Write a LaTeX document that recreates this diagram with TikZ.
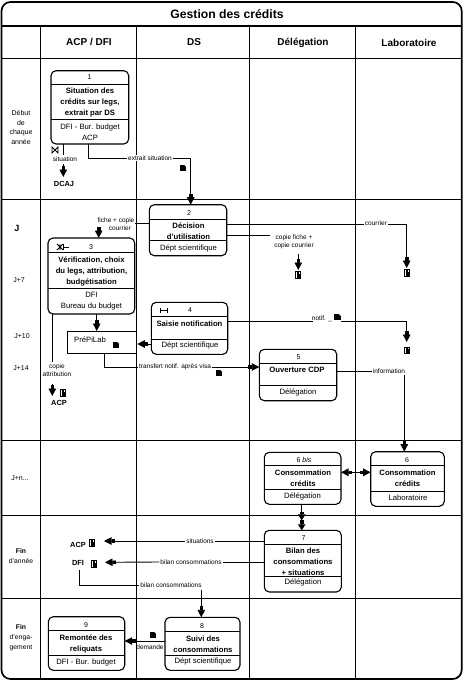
\documentclass[tikz,border=0pt]{standalone}
\usepackage{fontspec}
\setmainfont{Liberation Sans}
\usetikzlibrary{arrows.meta,calc}
\definecolor{ink}{gray}{0}
\tikzset{
  frame/.style={line width=1.7pt,draw=ink},
  grid/.style={line width=0.9pt,draw=ink},
  boxline/.style={line width=0.9pt,draw=ink},
  proc/.style={draw=ink,line width=1.1pt,rounded corners=5pt,fill=white,inner sep=0pt,outer sep=0pt},
  conn/.style={line width=0.9pt,draw=ink},
  arr/.style={conn,-{Rectangle[length=3.5pt,width=3.5pt]Triangle[width=7.5pt,length=7.5pt]}},
  arrb/.style={conn,{Triangle[width=7.5pt,length=7.5pt]Rectangle[length=3pt,width=3.5pt]}-{Rectangle[length=3pt,width=3.5pt]Triangle[width=7.5pt,length=7.5pt]}},
  title/.style={font=\bfseries\fontsize{12.2}{14}\selectfont,inner sep=0pt},
  head/.style={font=\bfseries\fontsize{10}{12}\selectfont,inner sep=0pt},
  num/.style={font=\fontsize{7}{8}\selectfont,inner sep=0pt},
  btext/.style={font=\bfseries\fontsize{7.7}{11}\selectfont,align=center,inner sep=0pt,yshift=-1.2pt},
  who/.style={font=\fontsize{7.7}{11}\selectfont,align=center,inner sep=0pt,yshift=-0.8pt},
  lbl/.style={font=\fontsize{6.5}{8}\selectfont,align=center,inner sep=0pt},
  lblw/.style={lbl,fill=white,inner sep=1pt},
  side/.style={font=\fontsize{7}{9.6}\selectfont,align=center,inner sep=0pt},
  ext/.style={font=\bfseries\fontsize{7.4}{8}\selectfont,inner sep=0pt},
}
% \procbox{name}{x1}{y1}{x2}{y2}{d1}{d2}
\newcommand{\procbox}[7]{%
  \node[proc,minimum width={#4pt-#2pt},minimum height={#5pt-#3pt},anchor=north west] (#1) at (#2,#3) {};
  \draw[boxline] (#2,#6) -- (#4,#6);
  \draw[boxline] (#2,#7) -- (#4,#7);
}
% document icon
\newcommand{\docicon}[1]{%
  \fill[ink] ($(#1)+(-3.2,-3.2)$) rectangle ($(#1)+(3.2,3.2)$);
  \fill[white] ($(#1)+(1,-3.4)$) -- ($(#1)+(3.4,-3.4)$) -- ($(#1)+(3.4,-1)$) -- cycle;
}
% file icon
\newcommand{\fileicon}[1]{%
  \fill[ink] ($(#1)+(-3,-3.6)$) rectangle ($(#1)+(3,3.6)$);
  \fill[white] ($(#1)+(-1.8,-2.6)$) rectangle ($(#1)+(-0.6,2.6)$);
  \fill[white] ($(#1)+(0.6,-2.6)$) rectangle ($(#1)+(1.2,-1.4)$);
}
\begin{document}
\begin{tikzpicture}[x=1pt,y=-1pt]
\useasboundingbox (0,0) rectangle (466,686);
% grid
\draw[grid] (40.5,26) -- (40.5,679) (136.5,26) -- (136.5,679) (249.5,26) -- (249.5,679) (355.7,26) -- (355.7,679);
\draw[grid] (1.5,58.5) -- (461.7,58.5) (1.5,199.5) -- (461.7,199.5) (1.5,440) -- (461.7,440) (1.5,515) -- (461.7,515) (1.5,598) -- (461.7,598);
\draw[frame,line width=1.4pt] (1.5,26) -- (461.7,26);
\draw[frame,rounded corners=9pt] (1.5,2) rectangle (461.7,679);
% headings
\node[title] (t) at (227,14.5) {Gestion des crédits};
\node[head] (h1) at (89,42) {ACP / DFI};
\node[head] (h2) at (194,42) {DS};
\node[head] (h3) at (303,42.5) {Délégation};
\node[head] (h4) at (409,42.5) {Laboratoire};
% side labels
\node[side] (s1) at (21,127.5) {Début\\de\\chaque\\année};
\node[font=\bfseries\fontsize{9}{10}\selectfont,inner sep=0pt] (s2) at (17,228) {J};
\node[side] (s3) at (19,280) {J+7};
\node[side] (s4) at (22,336) {J+10};
\node[side] (s5) at (21,368) {J+14};
\node[side] (s6) at (20,478) {J+n...};
\node[side,font=\fontsize{6.8}{10.5}\selectfont] (s7) at (21,556) {\textbf{Fin}\\d'année};
\node[side,font=\fontsize{6.8}{10}\selectfont] (s8) at (21,638) {\textbf{Fin}\\d'enga-\\gement};
% boxes
\procbox{b1}{51}{70.7}{128.7}{144}{84.7}{119}
\node[num] (n1) at (89.5,77) {1};
\node[btext] (c1) at (90,101) {Situation des\\crédits sur legs,\\extrait par DS};
\node[who] (w1) at (90,131.5) {DFI - Bur. budget\\ACP};
\procbox{b2}{149.3}{204.7}{226.7}{255.7}{219}{240.7}
\node[num] (n2) at (189,213) {2};
\node[btext] (c2) at (188.5,230) {Décision\\d'utilisation};
\node[who] (w2) at (188.5,247.5) {Dépt scientifique};
\procbox{b3}{48}{238}{134.7}{314}{252.3}{288.7}
\node[num] (n3) at (91,247) {3};
\node[btext] (c3) at (91.5,270) {Vérification, choix\\du legs, attribution,\\budgétisation};
\node[who] (w3) at (91.5,300) {DFI\\Bureau du budget};
\procbox{b4}{151.3}{302.3}{227.7}{354.3}{316.7}{339.7}
\node[num] (n4) at (190,310) {4};
\node[btext] (c4) at (189.5,322.5) {Saisie notification};
\node[who] (w4) at (190,345) {Dépt scientifique};
\node[draw=ink,line width=0.9pt,minimum width=69pt,minimum height=22.3pt,anchor=north west,inner sep=0pt] (p) at (67.4,331) {};
\node[who] (pt) at (90,339) {PréPiLab};
\procbox{b5}{259.3}{349.3}{336.7}{400.7}{363.3}{385.3}
\node[num] (n5) at (298.5,357) {5};
\node[btext] (c5) at (297,369) {Ouverture CDP};
\node[who] (w5) at (298,391.5) {Délégation};
\procbox{b6b}{264.3}{452.3}{341}{504.3}{465.7}{489.3}
\node[num] (n6b) at (304,460) {6 \textit{bis}};
\node[btext] (c6b) at (303,477) {Consommation\\crédits};
\node[who] (w6b) at (302.5,495.5) {Délégation};
\procbox{b6}{370.7}{451.7}{444.3}{506.3}{465.3}{491.3}
\node[num] (n6) at (407,460) {6};
\node[btext] (c6) at (407.5,477) {Consommation\\crédits};
\node[who] (w6) at (408,497) {Laboratoire};
\procbox{b7}{264.3}{530.3}{341.3}{592}{544.3}{576}
\node[num] (n7) at (303.5,538) {7};
\node[btext] (c7) at (303,561) {Bilan des\\consommations\\+ situations};
\node[who] (w7) at (303,582) {Délégation};
\procbox{b8}{165}{617.3}{240}{670.3}{631.7}{655.7}
\node[num] (n8) at (202,626) {8};
\node[btext] (c8) at (203,643) {Suivi des\\consommations};
\node[who] (w8) at (203,661) {Dépt scientifique};
\procbox{b9}{48.3}{616.7}{124.7}{670.3}{630.7}{655.7}
\node[num] (n9) at (86,625) {9};
\node[btext] (c9) at (86,643) {Remontée des\\reliquats};
\node[who] (w9) at (86,662) {DFI - Bur. budget};
% external labels
\node[ext] (dcaj) at (64,184) {DCAJ};
\node[ext] (acp1) at (59,403) {ACP};
\node[ext] (acp2) at (78,544.5) {ACP};
\node[ext] (dfi) at (78,563) {DFI};
% connector labels
\node[lbl] (l1) at (65,159) {situation};
\node[lblw] (l2) at (150,158) {extrait situation};
\node[lbl] (l3) at (116,224.5) {fiche + copie\\\hspace*{8pt}courrier};
\node[lblw] (l4) at (376,223.5) {courrier};
\node[lbl] (l5) at (294,241.5) {copie fiche +\\copie courrier};
\node[lblw] (l6) at (322,318.5) {notif. \_};
\node[lbl] (l7) at (57,370) {copie\\attribution};
\node[lblw] (l8) at (175,367) {transfert notif. après visa};
\node[lblw] (l9) at (389,371) {information};
\node[lblw] (l10) at (200,541) {situations};
\node[lblw] (l11) at (191,562) {bilan consommations};
\node[lblw] (l12) at (171,585) {bilan consommations};
\node[lbl] (l13) at (150,647) {demande};
% free ends
\coordinate (e1) at (63.3,155);
\coordinate (e1b) at (63.3,164);
\coordinate (e3a) at (98.7,227);
\coordinate (e2r) at (406.7,268);
\coordinate (e2s) at (298.3,270);
\coordinate (e2t) at (298.3,254);
\coordinate (e3b) at (52.3,362);
\coordinate (e3c) at (52.3,384);
\coordinate (e3d) at (52.3,396);
\coordinate (e4) at (406.7,342);
\coordinate (ea) at (104,541);
\coordinate (ed) at (105,562.3);
% connectors
\draw[conn] (63.3,0 |- b1.south) -- (e1);
\draw[arr] (e1b) -- (63.3,177);
\draw[conn] (88.3,0 |- b1.south) |- (l2.west);
\draw[arr] (l2.east) -| (190.7,0 |- b2.north);
\draw[conn] (b2.west |- 0,223.3) -- (l3.east |- 0,223.3);
\draw[arr] (e3a) -- (98.7,0 |- b3.north);
\draw[conn] (b2.east |- 0,224.3) -- (l4.west |- 0,224.3);
\draw[arr] (l4.east |- 0,224.3) -| (e2r);
\draw[conn] (b2.east |- 0,235.3) -- (270,235.3);
\draw[arr] (e2t) -- (e2s);
\draw[arr] (96.7,0 |- b3.south) -- (96.7,0 |- p.north);
\draw[conn] (52.3,0 |- b3.south) -- (e3b);
\draw[arr] (e3c) -- (e3d);
\draw[arr] (b4.west |- 0,344) -- (p.east |- 0,344);
\draw[conn] (b4.east |- 0,321.7) -- (312.7,321.7);
\draw[arr] (341,321.7) -| (e4);
\draw[conn] (104.3,0 |- p.south) |- (l8.west);
\draw[arr] (l8.east) -- (b5.west |- l8.east);
\draw[conn] (b5.east |- l9.west) -- (l9.west);
\draw[arr] (404.3,375) -- (404.3,0 |- b6.north);
\draw[arrb] (b6b.east |- 0,472.3) -- (b6.west |- 0,472.3);
\draw[arr,-{Rectangle[length=2pt,width=3.5pt]Triangle[width=7.5pt,length=6pt]Rectangle[length=4pt,width=3.5pt]Triangle[width=7.5pt,length=6pt]}] (301.7,0 |- b6b.south) -- (301.7,0 |- b7.north);
\draw[conn] (b7.west |- l10.east) -- (l10.east);
\draw[arr] (l10.west) -- (ea);
\draw[conn] (b7.west |- l11.east) -- (l11.east);
\draw[arr] (l11.west) -- (ed);
\draw[conn] (79.3,570) |- (l12.west);
\draw[arr] (201.3,590) -- (201.3,0 |- b8.north);
\draw[arr] (b8.west |- 0,641) -- (b9.east |- 0,641);
% icons
\docicon{183,168}
\docicon{337.5,317}
\docicon{219,373}
\docicon{153,635}
\docicon{116,345}
\fileicon{63,393}
\fileicon{298,275}
\fileicon{407,273}
\fileicon{407,350.6}
\fileicon{92,543}
\fileicon{94,564}
% bowtie and ticks
\draw[line width=0.9pt] (52,147) -- (52,153) -- (58,147) -- (58,153) -- cycle;
\draw[line width=0.9pt] (160,307.5) -- (160,312.5) (160,310) -- (167,310) (167,307.5) -- (167,312.5);
\draw[line width=0.9pt] (63,244) -- (63,250) (63,247) -- (69,247);
\draw[line width=0.9pt] (57,244) -- (63,250) (57,250) -- (63,244) (60,244) -- (60,250);
\end{tikzpicture}
\end{document}
